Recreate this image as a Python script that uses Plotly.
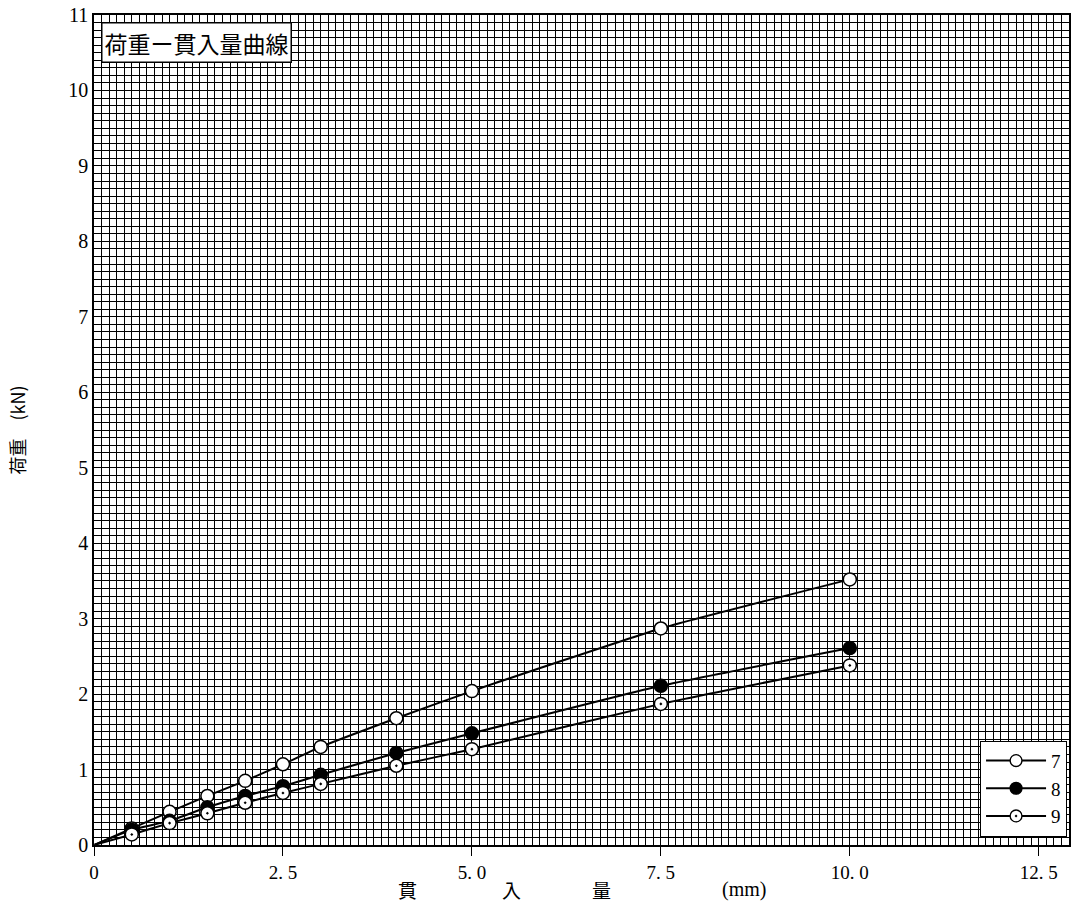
import plotly.graph_objects as go

# Data
penetration = [0, 0.5, 1.0, 1.5, 2.0, 2.5, 3.0, 4.0, 5.0, 7.5, 10.0]
load_7 = [0, 0.22, 0.44, 0.65, 0.85, 1.07, 1.30, 1.68, 2.04, 2.87, 3.52]
load_8 = [0, 0.20, 0.32, 0.50, 0.65, 0.78, 0.93, 1.22, 1.48, 2.11, 2.61]
load_9 = [0, 0.14, 0.29, 0.42, 0.56, 0.69, 0.81, 1.05, 1.27, 1.87, 2.38]
series_names = ["7", "8", "9"]

x_tickvals = [0, 2.5, 5.0, 7.5, 10.0, 12.5]
x_ticktext = ["0", "2. 5", "5. 0", "7. 5", "10. 0", "12. 5"]
y_tickvals = list(range(0, 12))

serif = "Liberation Serif, Times New Roman, serif"
cjk = "Noto Sans CJK JP"

styles = [
    dict(symbol="circle", color="white"),
    dict(symbol="circle", color="black"),
    dict(symbol="circle-dot", color="white"),
]

fig = go.Figure()
for name, ys, st in zip(series_names, [load_7, load_8, load_9], styles):
    sizes = [0] + [13] * (len(penetration) - 1)
    lw = [0] + [1.5] * (len(penetration) - 1)
    fig.add_trace(go.Scatter(
        x=penetration, y=ys, name=name, mode="lines+markers",
        line=dict(color="black", width=2, shape="spline", smoothing=0.4),
        marker=dict(symbol=st["symbol"], color=st["color"], size=sizes, opacity=1,
                    line=dict(color="black", width=lw)),
    ))

fig.update_layout(
    width=1075, height=910,
    margin=dict(l=94, r=4, t=13, b=65),
    paper_bgcolor="white", plot_bgcolor="white",
    showlegend=True,
    legend=dict(
        x=0.998, y=0.01, xanchor="right", yanchor="bottom",
        bgcolor="white", bordercolor="black", borderwidth=1,
        font=dict(family=serif, size=19, color="black"),
        itemwidth=60, tracegroupgap=0,
    ),
    font=dict(family=serif, color="black"),
)

fig.update_xaxes(
    range=[0, 12.9], tickmode="array", tickvals=x_tickvals, ticktext=x_ticktext,
    ticks="outside", ticklen=9, tickcolor="black", tickwidth=1,
    tickfont=dict(family=serif, size=19, color="black"),
    showgrid=True, gridcolor="black", gridwidth=1,
    minor=dict(dtick=0.1, showgrid=True, gridcolor="black", gridwidth=1, ticks=""),
    showline=True, linecolor="black", linewidth=1.5, mirror=True,
    zeroline=False,
)
fig.update_yaxes(
    range=[0, 11], tickmode="array", tickvals=y_tickvals,
    ticks="", tickfont=dict(family=serif, size=20, color="black"),
    showgrid=True, gridcolor="black", gridwidth=1,
    minor=dict(dtick=0.1, showgrid=True, gridcolor="black", gridwidth=1, ticks=""),
    showline=True, linecolor="black", linewidth=1.5, mirror=True,
    zeroline=False,
    title=dict(text="荷重　(kN)", font=dict(family=cjk, size=18, color="black"), standoff=38),
)

# Chart title box
fig.add_annotation(
    xref="paper", yref="paper", x=0.007, y=0.992, xanchor="left", yanchor="top",
    text="荷重ー貫入量曲線", showarrow=False,
    font=dict(family=cjk, size=23, color="black"),
    bgcolor="white", bordercolor="black", borderwidth=1.5, borderpad=2,
)

# X-axis title, spread out as in the reference
for txt, xv in [("貫", 4.15), ("入", 5.53), ("量", 6.71), ("(mm)", 8.6)]:
    fig.add_annotation(
        xref="x", yref="paper", x=xv, y=-0.054, yanchor="middle",
        text=txt, showarrow=False,
        font=dict(family=cjk if txt != "(mm)" else serif, size=19 if txt != "(mm)" else 20,
                  color="black"),
    )

fig.write_html("out.html")
